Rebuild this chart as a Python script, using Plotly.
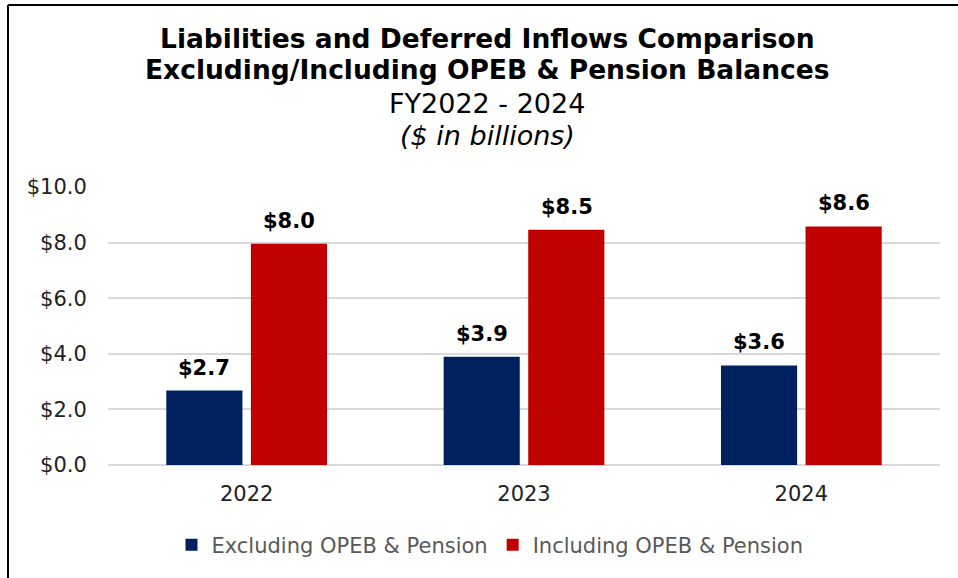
"""
Liabilities and deferred inflows, FY2022-2024, grouped bar chart.
"""
import plotly.graph_objects as go

years = ["2022", "2023", "2024"]
excluding = [2.68, 3.89, 3.58]
including = [7.96, 8.46, 8.58]
series_names = ["Excluding OPEB & Pension", "Including OPEB & Pension"]
y_ticks = [0, 2, 4, 6, 8, 10]
y_tick_labels = ["$0.0", "$2.0", "$4.0", "$6.0", "$8.0", "$10.0"]

BLUE = "#002060"
RED = "#C00000"
FONT = "DejaVu Sans"

# plot area in page pixels: x 108..940, y 187..465
PX_L, PX_R, PX_T, PX_B = 108, 940, 187, 465


def px_x(x):
    return (x - PX_L) / (PX_R - PX_L)


def px_y(y):
    return (PX_B - y) / (PX_B - PX_T)


fig = go.Figure()
fig.add_trace(go.Bar(x=years, y=excluding, name=series_names[0],
                     marker=dict(color=BLUE, line=dict(width=0))))
fig.add_trace(go.Bar(x=years, y=including, name=series_names[1],
                     marker=dict(color=RED, line=dict(width=0))))

# value labels, floated a little above each bar
# (x given as category index: numeric-looking strings get read as indices)
annotations = []
for vals, shift in [(excluding, -42.5), (including, 42.5)]:
    for i, v in enumerate(vals):
        annotations.append(dict(
            x=i, y=v, xref="x", yref="y", text=f"<b>${v:.1f}</b>",
            showarrow=False, xshift=shift, yanchor="bottom", yshift=9,
            font=dict(family=FONT, size=21, color="black"),
        ))

# title block
title_lines = [
    ("<b>Liabilities and Deferred Inflows Comparison</b>", 38, 26.5),
    ("<b>Excluding/Including OPEB & Pension Balances</b>", 70, 26.5),
    ("FY2022 - 2024", 103, 27),
    ("<i>($ in billions)</i>", 135, 27),
]
for txt, ypx, size in title_lines:
    annotations.append(dict(
        x=px_x(487), y=px_y(ypx), xref="paper", yref="paper",
        text=txt, showarrow=False, yanchor="middle", xanchor="center",
        font=dict(family=FONT, size=size, color="black"),
    ))

fig.update_layout(
    width=958, height=578,
    margin=dict(l=PX_L, r=958 - PX_R, t=PX_T, b=578 - PX_B),
    paper_bgcolor="white", plot_bgcolor="white",
    barmode="group", bargap=0.39, bargroupgap=0.1,
    font=dict(family=FONT, size=20, color="#222222"),
    annotations=annotations,
    legend=dict(
        orientation="h", x=px_x(490), xanchor="center",
        y=px_y(545), yanchor="middle",
        font=dict(family=FONT, size=21, color="#595959"),
    ),
    shapes=[
        dict(type="line", xref="paper", yref="paper",
             x0=px_x(8), x1=px_x(8), y0=px_y(5), y1=px_y(580),
             line=dict(color="black", width=2)),
        dict(type="line", xref="paper", yref="paper",
             x0=px_x(8), x1=px_x(960), y0=px_y(5), y1=px_y(5),
             line=dict(color="black", width=2)),
    ],
)
fig.update_xaxes(
    type="category", range=[-0.5, len(years) - 0.5],
    showgrid=False, showline=False,
    ticks="outside", ticklen=10, tickcolor="rgba(0,0,0,0)",
    tickfont=dict(family=FONT, size=21, color="#222222"),
)
fig.update_yaxes(
    range=[0, 10], tickvals=y_ticks, ticktext=y_tick_labels,
    showgrid=True, gridcolor="#D9D9D9", gridwidth=1.5,
    zeroline=True, zerolinecolor="#D9D9D9", zerolinewidth=1.5,
    showline=False, ticks="outside", ticklen=16, tickcolor="rgba(0,0,0,0)",
    tickfont=dict(family=FONT, size=21, color="#222222"),
)

# drop the browser's default body margin so the figure sits at the page corner
fig.write_html("out.html", post_script="document.body.style.margin='0';",
               config={"displayModeBar": False})
